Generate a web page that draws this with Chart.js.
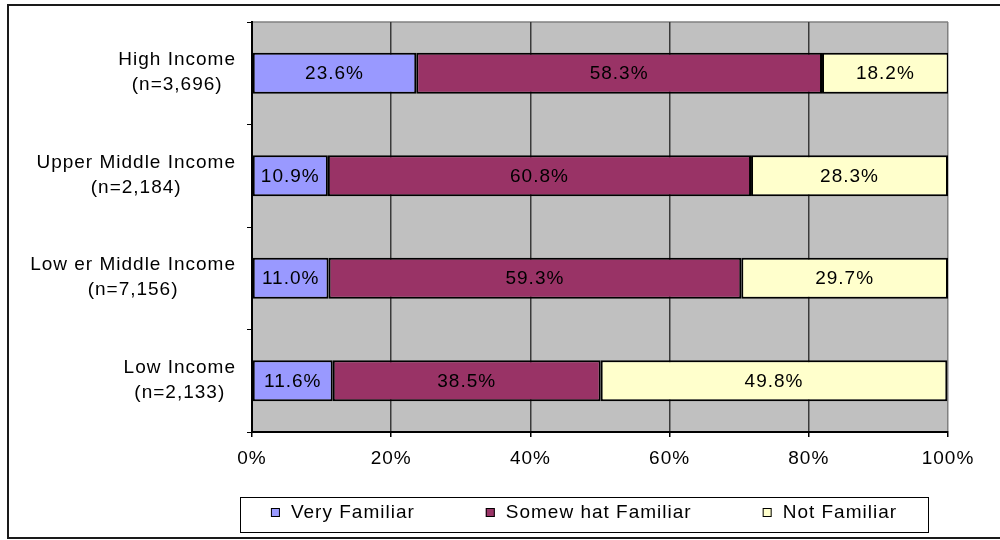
<!DOCTYPE html>
<html>
<head>
<meta charset="utf-8">
<title>Familiarity by income group</title>
<script src="https://cdn.jsdelivr.net/npm/chart.js@4/dist/chart.umd.min.js"></script>
<style>
  html, body { margin: 0; padding: 0; background: #fff; }
  #wrap { position: relative; width: 1000px; height: 540px; overflow: hidden; }
  #frame { position: absolute; left: 7px; top: 4px; width: 1000px; height: 531px; border: 2px solid #1a1a1a; border-right: none; }
  #chart { position: absolute; left: 0; top: 0; }
</style>
</head>
<body>
<div id="wrap">
  <div id="frame"></div>
  <canvas id="chart" width="1000" height="540"></canvas>
</div>
<script>
// income groups, top to bottom, with their sample sizes
const incomeGroups = ['High Income', 'Upper Middle Income', 'Low er Middle Income', 'Low Income'];
const sampleSizes = ['(n=3,696)', '(n=2,184)', '(n=7,156)', '(n=2,133)'];

// share of respondents (%) per familiarity level
const veryFamiliar = [23.6, 10.9, 11.0, 11.6];
const somewhatFamiliar = [58.3, 60.8, 59.3, 38.5];
const notFamiliar = [18.2, 28.3, 29.7, 49.8];

const seriesNames = ['Very Familiar', 'Somew hat Familiar', 'Not Familiar'];
const seriesColors = ['#9999ff', '#993366', '#ffffcc'];

const FONT = '"Liberation Sans", Arial, sans-serif';
const FONT_SIZE = 19;

// grey plot area behind the grid
const plotBackground = {
    id: 'plotBackground',
    beforeDraw(chart) {
        const { ctx, chartArea: a } = chart;
        ctx.letterSpacing = '1px';
        ctx.save();
        ctx.fillStyle = '#c0c0c0';
        ctx.fillRect(a.left, a.top, a.right - a.left, a.bottom - a.top);
        ctx.strokeStyle = '#808080';
        ctx.lineWidth = 1.5;
        ctx.beginPath();
        ctx.moveTo(a.left, a.top);
        ctx.lineTo(a.right, a.top);
        ctx.stroke();
        ctx.restore();
    }
};

// percentage written in the middle of every segment
const segmentLabels = {
    id: 'segmentLabels',
    afterDatasetsDraw(chart) {
        const ctx = chart.ctx;
        ctx.save();
        ctx.font = `${FONT_SIZE}px ${FONT}`;
        ctx.fillStyle = '#000';
        ctx.textAlign = 'center';
        ctx.textBaseline = 'middle';
        chart.data.datasets.forEach((ds, d) => {
            chart.getDatasetMeta(d).data.forEach((bar, i) => {
                const x = (bar.x + bar.base) / 2;
                ctx.fillText(ds.data[i].toFixed(1) + '%', x, bar.y + 1);
            });
        });
        ctx.restore();
    }
};

// two-line category labels, lines centred on each other
const groupLabels = {
    id: 'groupLabels',
    afterDraw(chart) {
        const ctx = chart.ctx;
        const yScale = chart.scales.y;
        const right = chart.chartArea.left - 16;
        ctx.save();
        ctx.font = `${FONT_SIZE}px ${FONT}`;
        ctx.fillStyle = '#000';
        ctx.textAlign = 'center';
        ctx.textBaseline = 'middle';
        incomeGroups.forEach((name, i) => {
            const w = Math.max(ctx.measureText(name).width, ctx.measureText(sampleSizes[i]).width);
            const cx = right - w / 2;
            const cy = yScale.getPixelForValue(i);
            ctx.fillText(name, cx, cy - 13);
            ctx.fillText(sampleSizes[i], cx, cy + 12);
        });
        ctx.restore();
    }
};

// boxed legend under the axis
const boxLegend = {
    id: 'boxLegend',
    afterDraw(chart) {
        const ctx = chart.ctx;
        const box = { left: 240, top: 497, right: 928, bottom: 532 };
        const gap = 71;
        const square = 9;
        ctx.save();
        ctx.fillStyle = '#fff';
        ctx.fillRect(box.left, box.top, box.right - box.left, box.bottom - box.top);
        ctx.strokeStyle = '#000';
        ctx.lineWidth = 1;
        ctx.strokeRect(box.left + 0.5, box.top + 0.5, box.right - box.left, box.bottom - box.top);

        ctx.font = `${FONT_SIZE}px ${FONT}`;
        ctx.textBaseline = 'middle';
        ctx.textAlign = 'left';
        const widths = seriesNames.map(n => square + 11 + ctx.measureText(n).width);
        const total = widths.reduce((s, w) => s + w, 0) + gap * (widths.length - 1);
        let x = (box.left + box.right) / 2 - total / 2;
        const cy = (box.top + box.bottom) / 2 - 2;
        seriesNames.forEach((name, i) => {
            ctx.fillStyle = seriesColors[i];
            ctx.fillRect(x, cy - square / 2, square, square);
            ctx.strokeStyle = '#000';
            ctx.strokeRect(x + 0.5, cy - square / 2 + 0.5, square - 1, square - 1);
            ctx.fillStyle = '#000';
            ctx.fillText(name, x + square + 11, cy);
            x += widths[i] + gap;
        });
        ctx.restore();
    }
};

new Chart(document.getElementById('chart'), {
    type: 'bar',
    data: {
        labels: incomeGroups,
        datasets: [veryFamiliar, somewhatFamiliar, notFamiliar].map((values, i) => ({
            label: seriesNames[i],
            data: values,
            backgroundColor: seriesColors[i],
            borderColor: '#000',
            borderWidth: 2,
            borderSkipped: false,
            categoryPercentage: 0.4,
            barPercentage: 1
        }))
    },
    options: {
        indexAxis: 'y',
        responsive: false,
        animation: false,
        layout: { padding: { top: 22, right: 52, left: 0, bottom: 0 } },
        plugins: {
            legend: { display: false },
            tooltip: { enabled: false }
        },
        scales: {
            x: {
                stacked: true,
                min: 0,
                max: 100,
                afterFit(scale) { scale.height = 108; },
                ticks: {
                    stepSize: 20,
                    padding: 10,
                    color: '#000',
                    font: { family: FONT, size: FONT_SIZE },
                    callback: v => v + '%'
                },
                grid: {
                    color: c => (c.tick && c.tick.value === 100 ? '#808080' : '#3a3a3a'),
                    lineWidth: 1.5,
                    tickLength: 5,
                    tickColor: '#000'
                },
                border: { color: '#000', width: 2 }
            },
            y: {
                stacked: true,
                afterFit(scale) { scale.width = 252; },
                ticks: { display: false },
                grid: {
                    offset: true,
                    drawOnChartArea: false,
                    tickLength: 5,
                    color: '#000'
                },
                border: { color: '#000', width: 2 }
            }
        }
    },
    plugins: [plotBackground, segmentLabels, groupLabels, boxLegend]
});
</script>
</body>
</html>
